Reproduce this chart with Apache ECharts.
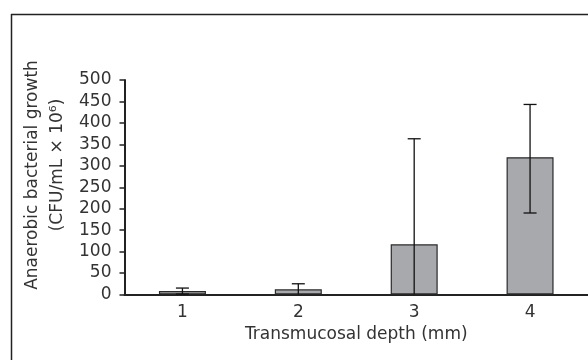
<!DOCTYPE html>
<html>
<head>
<meta charset="utf-8">
<script src="https://cdn.jsdelivr.net/npm/echarts@6/dist/echarts.min.js"></script>
<style>
  html, body { margin: 0; padding: 0; background: #fff; }
  #chart { width: 588px; height: 360px; }
</style>
</head>
<body>
<div id="chart"></div>
<script>
// data
const depths = ["1", "2", "3", "4"];
const growthMean = [8, 12, 117, 320];
const errUpper = [15, 25, 363, 443];
const errLower = [1, 0, 0, 190];

const FONT = "DejaVu Sans";
const INK = "#333";

const chart = echarts.init(document.getElementById("chart"));

const errData = depths.map((d, i) => [i, errLower[i], errUpper[i]]);

chart.setOption({
  animation: false,
  grid: { left: 124.5, top: 80, width: 465, height: 214.5 },
  xAxis: {
    type: "category",
    data: depths,
    name: "Transmucosal depth (mm)",
    nameLocation: "middle",
    nameGap: 32,
    nameTextStyle: { fontFamily: FONT, fontSize: 17, color: INK },
    axisLine: { lineStyle: { color: "#222", width: 2 } },
    axisTick: { show: false },
    axisLabel: { fontFamily: FONT, fontSize: 17, color: INK, margin: 10 }
  },
  yAxis: {
    type: "value",
    min: 0,
    max: 500,
    interval: 50,
    splitLine: { show: false },
    axisLine: { show: true, lineStyle: { color: "#222", width: 2 } },
    axisTick: { show: true, length: 5, lineStyle: { color: "#222", width: 1.5 } },
    axisLabel: { fontFamily: FONT, fontSize: 17, color: INK, margin: 13 }
  },
  series: [
    {
      type: "bar",
      data: growthMean,
      barWidth: 47,
      itemStyle: { color: "#a8a9ac", borderColor: "#2a2a2a", borderWidth: 1.2 }
    },
    {
      type: "custom",
      data: errData,
      z: 10,
      renderItem: function (params, api) {
        const x = api.value(0);
        const lo = api.coord([x, api.value(1)]);
        const hi = api.coord([x, api.value(2)]);
        const cap = 6.5;
        const style = { stroke: "#111", lineWidth: 1.3 };
        const kids = [
          { type: "line", shape: { x1: hi[0], y1: hi[1], x2: lo[0], y2: lo[1] }, style: style },
          { type: "line", shape: { x1: hi[0] - cap, y1: hi[1], x2: hi[0] + cap, y2: hi[1] }, style: style }
        ];
        if (api.value(1) > 0) {
          kids.push({ type: "line", shape: { x1: lo[0] - cap, y1: lo[1], x2: lo[0] + cap, y2: lo[1] }, style: style });
        }
        return { type: "group", children: kids };
      }
    }
  ],
  graphic: [
    { type: "line", shape: { x1: 11.5, y1: 14, x2: 11.5, y2: 360 }, style: { stroke: "#222", lineWidth: 1.5 } },
    { type: "line", shape: { x1: 11, y1: 14.5, x2: 588, y2: 14.5 }, style: { stroke: "#222", lineWidth: 1.5 } },
    {
      type: "text", x: 33, y: 175, rotation: Math.PI / 2,
      style: { text: "Anaerobic bacterial growth", font: "17px " + FONT, fill: INK, align: "center", verticalAlign: "middle" }
    },
    {
      type: "text", x: 58, y: 165, rotation: Math.PI / 2,
      style: { text: "(CFU/mL \u00d7 10\u2076)", font: "17px " + FONT, fill: INK, align: "center", verticalAlign: "middle" }
    }
  ]
});
</script>
</body>
</html>
